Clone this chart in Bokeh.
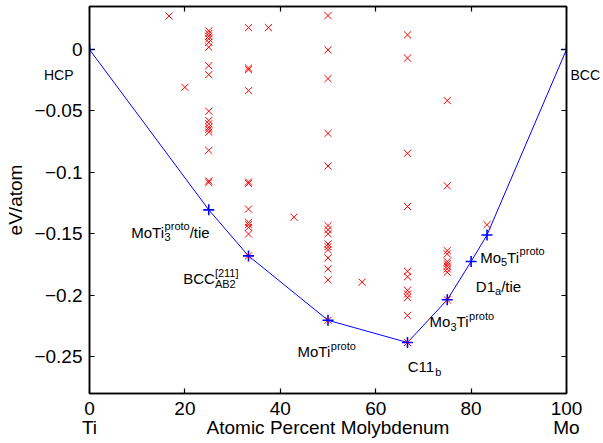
from bokeh.plotting import figure
from bokeh.models import Label, LinearAxis, FixedTicker, CustomJSTickFormatter, ColumnDataSource
from bokeh.embed import file_html
from bokeh.resources import INLINE

FONT = "Liberation Sans"

# Formation energies (eV/atom) of the sampled Mo-Ti structures, per composition (at.% Mo)
ev_16_7 = [0.0273]
ev_20_0 = [-0.0308]
ev_25_0 = [0.0152, 0.0130, 0.0108, 0.0087, 0.0059, 0.0019, -0.0132, -0.0205,
           -0.0502, -0.0578, -0.0605, -0.0632, -0.0651, -0.0673, -0.0821,
           -0.1070, -0.1083]
ev_33_3 = [0.0178, -0.0151, -0.0165, -0.0335, -0.1078, -0.1090, -0.1299,
           -0.1407, -0.1426, -0.1448, -0.1502, -0.1680]
ev_37_5 = [0.0178]
ev_42_9 = [-0.1365]
ev_50_0 = [0.0276, -0.0003, -0.0237, -0.0683, -0.0948, -0.1434, -0.1467,
           -0.1500, -0.1583, -0.1605, -0.1630, -0.1696, -0.1786, -0.1875,
           -0.2204]
ev_57_1 = [-0.1894]
ev_66_7 = [0.0119, -0.0070, -0.0845, -0.1278, -0.1805, -0.1850, -0.1960,
           -0.1990, -0.2020, -0.2164, -0.2385]
ev_75_0 = [-0.0416, -0.1110, -0.1637, -0.1664, -0.1726, -0.1745, -0.1764,
           -0.1786, -0.1813, -0.2037]
ev_83_3 = [-0.1426]

compositions = [100 / 6, 20.0, 25.0, 100 / 3, 37.5, 300 / 7, 50.0, 400 / 7,
                200 / 3, 75.0, 250 / 3]
energies = [ev_16_7, ev_20_0, ev_25_0, ev_33_3, ev_37_5, ev_42_9, ev_50_0,
            ev_57_1, ev_66_7, ev_75_0, ev_83_3]

# Convex hull (ground states)
hull_pct = [0.0, 25.0, 100 / 3, 50.0, 200 / 3, 75.0, 80.0, 250 / 3, 100.0]
hull_ev = [0.0, -0.1305, -0.1680, -0.2204, -0.2385, -0.2037, -0.1726, -0.1510, 0.0]

# Axis ticks and titles
xtick_vals = [0, 20, 40, 60, 80, 100]
ytick_vals = [0.0, -0.05, -0.1, -0.15, -0.2, -0.25]
ytick_labels = ["0", "\u22120.05", "\u22120.1", "\u22120.15", "\u22120.2", "\u22120.25"]
x_title = "Atomic Percent Molybdenum"
y_title = "eV/atom"

# End members: element names under the ends, phase names beside the frame
end_pct = [0, 100]
end_elements = ["Ti", "Mo"]
end_phases = ["HCP", "BCC"]
end_phase_level = -0.021

p = figure(width=603, height=443, x_range=(0, 100), y_range=(-0.28, 0.035),
           output_backend="svg", toolbar_location=None, tools="",
           min_border_left=89, min_border_right=37, min_border_top=6,
           min_border_bottom=50)
p.background_fill_color = "white"
p.border_fill_color = "white"
p.grid.visible = False
p.outline_line_color = "black"
p.outline_line_width = 1.5

# hull line first, then the sampled structures, then ground-state markers
p.line(hull_pct, hull_ev, line_color="#0000ff", line_width=1)
for pct, evs in zip(compositions, energies):
    src = ColumnDataSource(data=dict(pct=[pct] * len(evs), ev=evs))
    p.scatter("pct", "ev", source=src, marker="x", size=10,
              line_color="red", line_alpha=1.0, line_width=1)
p.scatter(hull_pct, hull_ev, marker="cross", size=11, line_color="#0000ff",
          line_width=1.6)


def style_axis(ax, ticks):
    ax.ticker = FixedTicker(ticks=ticks)
    ax.major_tick_in = 5
    ax.major_tick_out = 0
    ax.minor_tick_in = 0
    ax.minor_tick_out = 0
    ax.axis_line_width = 1.5
    ax.axis_line_color = "black"
    ax.major_tick_line_color = "black"
    ax.major_tick_line_width = 1.2
    ax.major_label_text_font = FONT
    ax.major_label_text_font_size = "19px"
    ax.major_label_text_color = "black"


def text_only_axis(ticks, labels, size, standoff):
    """Axis without line or ticks, used only to write names beside the frame."""
    ax = LinearAxis(ticker=FixedTicker(ticks=ticks),
                    major_label_overrides=dict(zip(ticks, labels)))
    ax.axis_line_color = None
    ax.major_tick_line_color = None
    ax.minor_tick_line_color = None
    ax.major_tick_in = 0
    ax.major_tick_out = 0
    ax.minor_tick_in = 0
    ax.minor_tick_out = 0
    ax.major_label_standoff = standoff
    ax.major_label_text_font = FONT
    ax.major_label_text_font_size = f"{size}px"
    ax.major_label_text_color = "black"
    return ax


# bottom axis: numbers, then one row with the element names and the title
xa = p.xaxis[0]
style_axis(xa, xtick_vals)
xa.major_label_standoff = 8
p.add_layout(text_only_axis([end_pct[0], 50, end_pct[1]],
                            [end_elements[0], x_title, end_elements[1]],
                            19, -1), "below")

# left axis: numbers and title
ya = p.yaxis[0]
style_axis(ya, ytick_vals)
ya.major_label_overrides = dict(zip(ytick_vals, ytick_labels))
ya.major_label_standoff = 7
ya.axis_label = y_title
ya.axis_label_text_font = FONT
ya.axis_label_text_font_size = "19px"
ya.axis_label_text_font_style = "normal"
ya.axis_label_text_color = "black"
ya.axis_label_standoff = 5

# box: inward ticks on top and right, no numbers
blank = CustomJSTickFormatter(code="return ''")
top = LinearAxis(formatter=blank, major_label_standoff=0)
right = LinearAxis(formatter=blank, major_label_standoff=0)
style_axis(top, xtick_vals)
style_axis(right, ytick_vals)
top.major_label_text_font_size = "0px"
right.major_label_text_font_size = "0px"
p.add_layout(top, "above")
p.add_layout(right, "right")

# phase names of the pure elements, beside the frame
p.add_layout(text_only_axis([end_phase_level], end_phases[:1], 14, -71), "left")
p.add_layout(text_only_axis([end_phase_level], end_phases[1:], 14, 4), "right")

WIDTHS = {"M": 833, "o": 556, "T": 611, "i": 222, "p": 556, "r": 333, "t": 278,
          "e": 556, "/": 278, "B": 667, "C": 722, "[": 278, "]": 278, "1": 556,
          "2": 556, "3": 556, "5": 556, "A": 667, "b": 556, "D": 722, "a": 556,
          "H": 722, "P": 667}


def text_width(s, size):
    return sum(WIDTHS.get(c, 556) for c in s) * size / 1000.0


MAIN = 15
SCRIPT = 11
SUP_RAISE = 6
SUB_DROP = 5


def add_text(x, y, text, size, dx=0.0, dy=0.0):
    p.add_layout(Label(x=x, y=y, x_offset=dx, y_offset=dy, text=text,
                       text_font=FONT, text_font_size=f"{size}px",
                       text_color="black", text_align="left",
                       text_baseline="alphabetic"))


def compound_label(x, y, parts):
    off = 0.0
    for part in parts:
        if isinstance(part, str):
            add_text(x, y, part, MAIN, dx=off)
            off += text_width(part, MAIN)
        else:
            sup, sub = part
            w = 0.0
            if sup:
                add_text(x, y, sup, SCRIPT, dx=off, dy=SUP_RAISE)
                w = max(w, text_width(sup, SCRIPT))
            if sub:
                add_text(x, y, sub, SCRIPT, dx=off, dy=-SUB_DROP)
                w = max(w, text_width(sub, SCRIPT))
            off += w


# ground-state names (left end of baseline, in data units)
compound_label(8.76, -0.1489, ["MoTi", ("proto", "3"), "/tie"])
compound_label(19.65, -0.1866, ["BCC", ("[211]", "AB2")])
compound_label(43.6, -0.2461, ["MoTi", ("proto", "")])
compound_label(66.7, -0.2583, ["C11", ("", "b")])
compound_label(71.3, -0.2218, ["Mo", ("", "3"), "Ti", ("proto", "")])
compound_label(81.0, -0.1926, ["D1", ("", "a"), "/tie"])
compound_label(81.9, -0.1691, ["Mo", ("", "5"), "Ti", ("proto", "")])

open("out.html", "w").write(file_html(p, INLINE))
